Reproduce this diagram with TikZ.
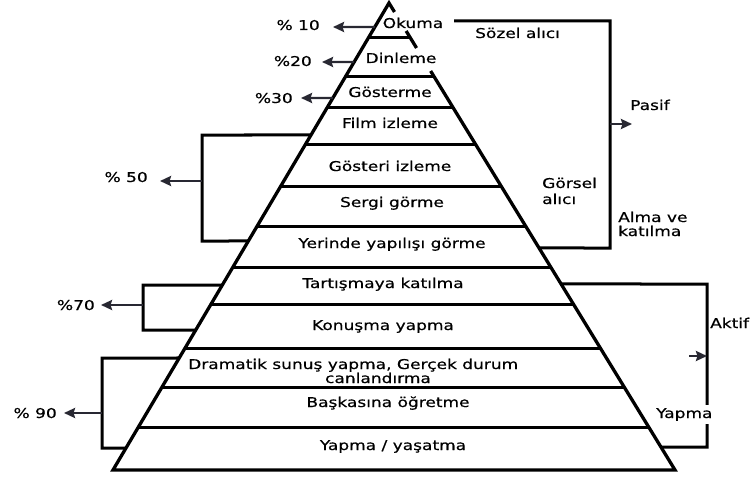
\documentclass[tikz,border=0pt]{standalone}
\usepackage{fontspec}
\setmainfont{DejaVu Sans}[FakeStretch=1.26,FakeBold=0.5]
\usetikzlibrary{arrows.meta}
\definecolor{arrowc}{RGB}{40,40,50}
\newcommand\onleft[2]{\pgfmathsetmacro\tpos{(#2-3)/467}\path (A) -- (BL) coordinate[pos=\tpos] (#1);}
\newcommand\onright[2]{\pgfmathsetmacro\tpos{(#2-3)/467}\path (A) -- (BR) coordinate[pos=\tpos] (#1);}
\begin{document}
\begin{tikzpicture}[x=1pt,y=-1pt,
  edge/.style={line width=3.3pt, line join=miter},
  divider/.style={line width=3pt},
  brk/.style={line width=3pt, line join=miter},
  pct/.style={line width=2.4pt, draw=arrowc, -{Stealth[length=11pt,width=10pt,inset=1.5pt]}},
  lab/.style={font=\fontsize{13.5}{15}\selectfont, inner sep=0pt, text=black},
  cover/.style={lab, fill=white, inner sep=3pt},
]
\useasboundingbox[fill=white] (0,0) rectangle (754,476);

% pyramid corners
\coordinate (A) at (389,3);
\coordinate (BL) at (113,470);
\coordinate (BR) at (675,470);

% dividers
\foreach \yy [count=\i] in {38,77,108,145,187,227,268,305,348,387,427} {
  \pgfmathsetmacro\tpos{(\yy-3)/467}
  \path (A) -- (BL) coordinate[pos=\tpos] (dl\i);
  \path (A) -- (BR) coordinate[pos=\tpos] (dr\i);
  \draw[divider] (dl\i) -- (dr\i);
}

% pyramid outline (right edge broken behind the top labels)
\onright{r12}{12}\onright{r31}{31}\onright{r48}{48}\onright{r71}{71}
\draw[edge] (r12) -- (A) -- (BL) -- (BR) -- (r71);
\draw[edge] (r31) -- (r48);

% level labels
\node[lab, anchor=base] (okuma) at (413,28) {Okuma};
\node[lab, anchor=base] (dinleme) at (401,63) {Dinleme};
\node[lab, anchor=base] (gosterme) at (390,97) {Gösterme};
\node[lab, anchor=base] (film) at (390,128) {Film izleme};
\node[lab, anchor=base] (gosteri) at (390,171) {Gösteri izleme};
\node[lab, anchor=base] (sergi) at (392,207) {Sergi görme};
\node[lab, anchor=base] (yerinde) at (392,248) {Yerinde yapılışı görme};
\node[lab, anchor=base] (tartisma) at (383,288) {Tartışmaya katılma};
\node[lab, anchor=base] (konusma) at (383,330) {Konuşma yapma};
\node[lab, anchor=base west] (dram1) at (188,369) {Dramatik sunuş yapma, Gerçek durum};
\node[lab, anchor=base] (dram2) at (378,383) {canlandırma};
\node[lab, anchor=base] (baskasina) at (388,407) {Başkasına öğretme};
\node[lab, anchor=base] (yapma) at (393,450) {Yapma / yaşatma};

% percentage arrows (top three)
\onleft{e10}{27}\onleft{e20}{62}\onleft{e30}{98}
\coordinate (t10) at (333,27);
\coordinate (t20) at (322,62);
\coordinate (t30) at (301,98);
\draw[pct] (e10) -- (t10);
\draw[pct] (e20) -- (t20);
\draw[pct] (e30) -- (t30);
\node[lab, anchor=base east] (p10) at (320,30) {\% 10};
\node[lab, anchor=base east] (p20) at (312,66) {\%20};
\node[lab, anchor=base east] (p30) at (293,103) {\%30};

% %50 bracket
\onleft{l50a}{135}\onleft{l50b}{241}
\coordinate (b50a) at (202,135);
\coordinate (b50b) at (202,241);
\coordinate (b50m) at (202,181);
\coordinate (t50) at (160,181);
\draw[brk] (l50a) -- (b50a) -- (b50b) -- (l50b);
\draw[pct] (b50m) -- (t50);
\node[lab, anchor=base east] (p50) at (148,182) {\% 50};

% %70 bracket
\onleft{l70a}{285}\onleft{l70b}{330}
\coordinate (b70a) at (143,285);
\coordinate (b70b) at (143,330);
\coordinate (b70m) at (143,305);
\coordinate (t70) at (101,305);
\draw[brk] (l70a) -- (b70a) -- (b70b) -- (l70b);
\draw[pct] (b70m) -- (t70);
\node[lab, anchor=base east] (p70) at (95,310) {\%70};

% %90 bracket
\onleft{l90a}{358}\onleft{l90b}{448}
\coordinate (b90a) at (102,358);
\coordinate (b90b) at (102,448);
\coordinate (b90m) at (102,413);
\coordinate (t90) at (64,413);
\draw[brk] (l90a) -- (b90a) -- (b90b) -- (l90b);
\draw[pct] (b90m) -- (t90);
\node[lab, anchor=base east] (p90) at (57,418) {\% 90};

% Pasif bracket
\onright{rpa}{248}
\coordinate (pa0) at (454,21);
\coordinate (pa1) at (610,21);
\coordinate (pa2) at (610,248);
\coordinate (pam) at (610,124);
\coordinate (pat) at (632,124);
\draw[brk] (pa0) -- (pa1) -- (pa2) -- (rpa);
\draw[pct] (pam) -- (pat);
\node[lab, anchor=base west] (sozel) at (475,38) {Sözel alıcı};
\node[lab, anchor=base west] (pasif) at (630,110) {Pasif};
\node[lab, anchor=base west] (gorsel1) at (542,188) {Görsel};
\node[lab, anchor=base west] (gorsel2) at (542,204) {alıcı};
\node[lab, anchor=base west] (alma1) at (618,222) {Alma ve};
\node[lab, anchor=base west] (alma2) at (618,236) {katılma};

% Aktif bracket
\onright{rak1}{284}\onright{rak2}{447}
\coordinate (ak1) at (707,284);
\coordinate (ak2) at (707,447);
\coordinate (aks) at (689,356);
\coordinate (akm) at (707,356);
\draw[brk] (rak1) -- (ak1) -- (ak2) -- (rak2);
\draw[pct] (aks) -- (akm);
\node[lab, anchor=base west] (aktif) at (710,328) {Aktif};
\node[cover, anchor=base west] (yapma2) at (653,418) {Yapma};
\end{tikzpicture}
\end{document}
